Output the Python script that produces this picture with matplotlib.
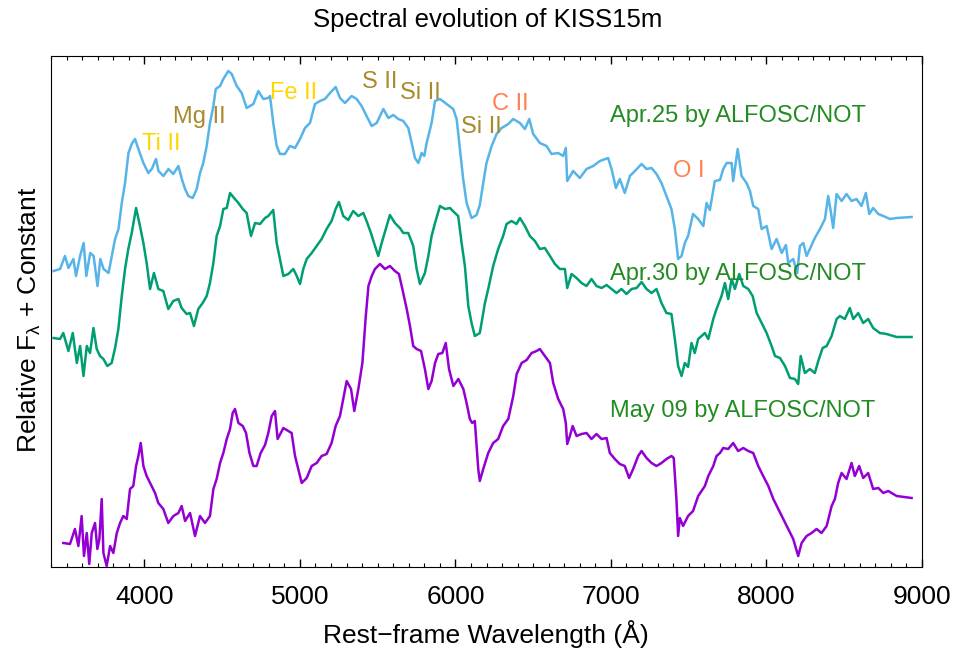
import matplotlib
matplotlib.use("Agg")
import matplotlib.pyplot as plt
from matplotlib.ticker import MultipleLocator

plt.rcParams['font.family'] = ['Liberation Sans', 'DejaVu Sans']
plt.rcParams['mathtext.fontset'] = 'custom'
plt.rcParams['mathtext.rm'] = 'Liberation Sans'
plt.rcParams['mathtext.it'] = 'Liberation Sans:italic'

# spectra (relative flux + constant)
wave_apr25 = [3417, 3458, 3490, 3512, 3544, 3561, 3587, 3610, 3627, 3652, 3674, 3699, 3717, 3738, 3770,
              3791, 3812, 3834, 3855, 3876, 3898, 3919, 3940, 3962, 3994, 4026, 4048, 4075, 4091, 4123,
              4155, 4187, 4219, 4241, 4262, 4283, 4311, 4337, 4358, 4379, 4401, 4422, 4444, 4459, 4487,
              4508, 4540, 4562, 4594, 4626, 4658, 4701, 4733, 4765, 4797, 4808, 4829, 4851, 4872, 4904,
              4936, 4969, 5001, 5033, 5065, 5097, 5129, 5161, 5194, 5230, 5258, 5290, 5333, 5365, 5397,
              5429, 5462, 5494, 5537, 5569, 5601, 5633, 5665, 5697, 5719, 5740, 5762, 5783, 5800, 5815,
              5847, 5869, 5901, 5944, 5986, 6008, 6029, 6050, 6072, 6104, 6136, 6157, 6179, 6200, 6233,
              6265, 6297, 6340, 6372, 6415, 6447, 6475, 6500, 6543, 6586, 6618, 6661, 6693, 6710, 6719,
              6757, 6800, 6843, 6886, 6929, 6982, 7004, 7032, 7057, 7089, 7122, 7154, 7197, 7229, 7261,
              7293, 7325, 7357, 7389, 7411, 7432, 7454, 7475, 7496, 7528, 7561, 7594, 7615, 7636, 7668,
              7701, 7722, 7744, 7776, 7786, 7815, 7840, 7872, 7894, 7915, 7947, 7969, 8001, 8033, 8065,
              8098, 8125, 8140, 8172, 8198, 8215, 8237, 8258, 8279, 8311, 8344, 8376, 8397, 8414, 8429,
              8451, 8483, 8515, 8547, 8579, 8611, 8639, 8661, 8686, 8719, 8751, 8794, 8837, 8933]
flux_apr25 = [2.96, 2.98, 3.11, 2.99, 3.08, 2.91, 3.11, 3.24, 2.91, 3.14, 3.11, 2.81, 3.08, 2.98, 2.94,
              3.11, 3.28, 3.38, 3.64, 3.84, 4.14, 4.23, 4.28, 4.18, 4.04, 3.94, 3.98, 4.08, 3.96, 3.91,
              3.98, 3.93, 4.01, 3.88, 3.78, 3.71, 3.69, 3.78, 3.94, 4.04, 4.21, 4.44, 4.61, 4.78, 4.81,
              4.88, 4.96, 4.93, 4.81, 4.74, 4.59, 4.63, 4.76, 4.68, 4.69, 4.71, 4.44, 4.21, 4.13, 4.13,
              4.21, 4.19, 4.28, 4.39, 4.44, 4.63, 4.66, 4.68, 4.74, 4.80, 4.69, 4.64, 4.71, 4.68, 4.61,
              4.51, 4.41, 4.44, 4.58, 4.49, 4.52, 4.48, 4.46, 4.39, 4.24, 4.09, 4.04, 4.14, 4.11, 4.24,
              4.44, 4.66, 4.68, 4.63, 4.58, 4.48, 4.18, 3.88, 3.64, 3.49, 3.52, 3.62, 3.84, 4.04, 4.21,
              4.33, 4.39, 4.43, 4.48, 4.44, 4.38, 4.48, 4.33, 4.24, 4.21, 4.13, 4.14, 4.11, 4.19, 3.86,
              3.96, 3.89, 3.98, 4.01, 4.06, 4.09, 3.98, 3.79, 3.88, 3.74, 3.91, 3.96, 4.03, 3.98, 3.99,
              3.93, 3.84, 3.71, 3.58, 3.38, 3.08, 3.11, 3.24, 3.31, 3.53, 3.48, 3.41, 3.64, 3.57, 3.86,
              3.87, 3.98, 4.04, 4.04, 3.86, 4.18, 3.91, 3.84, 3.76, 3.61, 3.58, 3.38, 3.41, 3.18, 3.28,
              3.14, 3.22, 3.04, 3.08, 2.94, 3.21, 3.24, 3.11, 3.18, 3.29, 3.38, 3.48, 3.71, 3.55, 3.39,
              3.73, 3.66, 3.73, 3.66, 3.68, 3.61, 3.74, 3.53, 3.59, 3.53, 3.51, 3.48, 3.49, 3.50]

wave_apr30 = [3417, 3458, 3479, 3512, 3540, 3566, 3587, 3609, 3630, 3651, 3673, 3694, 3715, 3737, 3762,
              3790, 3812, 3833, 3855, 3876, 3897, 3919, 3947, 3968, 3994, 4015, 4037, 4062, 4090, 4122,
              4154, 4186, 4219, 4240, 4272, 4294, 4319, 4347, 4375, 4401, 4422, 4444, 4465, 4487, 4508,
              4530, 4551, 4577, 4605, 4633, 4658, 4686, 4712, 4744, 4776, 4797, 4829, 4851, 4872, 4894,
              4926, 4958, 4980, 5001, 5022, 5044, 5076, 5108, 5140, 5172, 5204, 5230, 5251, 5279, 5311,
              5343, 5376, 5408, 5429, 5457, 5483, 5504, 5526, 5558, 5579, 5611, 5643, 5665, 5697, 5729,
              5751, 5772, 5804, 5826, 5847, 5869, 5901, 5933, 5965, 5997, 6018, 6040, 6061, 6083, 6104,
              6125, 6157, 6190, 6211, 6243, 6275, 6307, 6329, 6361, 6393, 6415, 6447, 6479, 6511, 6543,
              6575, 6608, 6640, 6672, 6704, 6719, 6747, 6779, 6811, 6843, 6875, 6907, 6940, 6972, 7004,
              7036, 7068, 7100, 7133, 7165, 7197, 7229, 7261, 7293, 7325, 7357, 7389, 7411, 7432, 7454,
              7475, 7496, 7518, 7539, 7561, 7604, 7626, 7658, 7679, 7711, 7733, 7754, 7776, 7797, 7825,
              7851, 7883, 7911, 7937, 7969, 8001, 8033, 8055, 8087, 8119, 8151, 8183, 8204, 8220, 8247,
              8279, 8311, 8333, 8361, 8387, 8419, 8451, 8472, 8504, 8536, 8558, 8590, 8622, 8654, 8686,
              8729, 8772, 8837, 8933]
flux_apr30 = [2.29, 2.28, 2.34, 2.16, 2.34, 2.04, 2.21, 1.91, 2.21, 2.14, 2.39, 2.18, 2.11, 2.08, 2.01,
              2.04, 2.19, 2.38, 2.71, 2.98, 3.18, 3.34, 3.59, 3.44, 3.24, 3.04, 2.78, 2.94, 2.78, 2.76,
              2.58, 2.66, 2.68, 2.59, 2.53, 2.54, 2.41, 2.58, 2.64, 2.71, 2.84, 3.04, 3.31, 3.41, 3.58,
              3.59, 3.74, 3.69, 3.64, 3.58, 3.54, 3.31, 3.44, 3.43, 3.49, 3.51, 3.57, 3.24, 3.08, 2.91,
              2.93, 2.98, 2.91, 2.83, 2.98, 3.08, 3.14, 3.21, 3.28, 3.38, 3.46, 3.58, 3.65, 3.51, 3.47,
              3.56, 3.51, 3.54, 3.46, 3.34, 3.21, 3.11, 3.24, 3.41, 3.52, 3.44, 3.39, 3.34, 3.34, 3.21,
              2.98, 2.83, 2.94, 3.11, 3.31, 3.44, 3.61, 3.58, 3.59, 3.54, 3.51, 3.24, 3.01, 2.61, 2.44,
              2.31, 2.34, 2.64, 2.78, 3.01, 3.18, 3.31, 3.43, 3.46, 3.43, 3.49, 3.41, 3.31, 3.26, 3.18,
              3.19, 3.11, 3.03, 2.98, 2.98, 2.79, 2.93, 2.89, 2.84, 2.81, 2.88, 2.81, 2.79, 2.82, 2.78,
              2.74, 2.78, 2.73, 2.78, 2.79, 2.85, 2.78, 2.74, 2.78, 2.64, 2.54, 2.53, 2.28, 2.01, 1.91,
              2.04, 2.00, 2.24, 2.14, 2.28, 2.34, 2.28, 2.48, 2.58, 2.71, 2.84, 2.68, 2.88, 2.78, 2.93,
              2.81, 2.78, 2.71, 2.54, 2.44, 2.34, 2.21, 2.11, 2.09, 2.01, 1.89, 1.88, 1.83, 2.11, 1.94,
              1.98, 1.94, 2.06, 2.19, 2.21, 2.31, 2.48, 2.51, 2.48, 2.59, 2.48, 2.54, 2.44, 2.48, 2.39,
              2.34, 2.33, 2.30, 2.30]

wave_may09 = [3479, 3522, 3554, 3576, 3597, 3612, 3630, 3646, 3662, 3683, 3698, 3711, 3726, 3737, 3758,
              3780, 3801, 3823, 3844, 3865, 3887, 3908, 3929, 3947, 3962, 3977, 3994, 4015, 4037, 4069,
              4090, 4122, 4154, 4187, 4219, 4240, 4262, 4294, 4326, 4358, 4390, 4422, 4444, 4465, 4487,
              4508, 4530, 4551, 4568, 4583, 4605, 4633, 4654, 4676, 4701, 4722, 4748, 4776, 4797, 4819,
              4840, 4857, 4894, 4926, 4947, 4969, 4990, 5012, 5044, 5076, 5108, 5140, 5172, 5204, 5230,
              5258, 5279, 5301, 5329, 5350, 5376, 5402, 5424, 5441, 5462, 5483, 5515, 5547, 5579, 5611,
              5637, 5659, 5687, 5708, 5729, 5751, 5779, 5804, 5826, 5847, 5869, 5890, 5916, 5938, 5959,
              5987, 6019, 6051, 6072, 6093, 6108, 6125, 6147, 6157, 6179, 6211, 6243, 6275, 6307, 6340,
              6372, 6394, 6426, 6458, 6490, 6522, 6543, 6575, 6608, 6629, 6661, 6693, 6710, 6719, 6736,
              6754, 6779, 6811, 6843, 6875, 6907, 6940, 6972, 6993, 7025, 7057, 7089, 7117, 7143, 7175,
              7197, 7229, 7261, 7293, 7325, 7357, 7389, 7404, 7421, 7432, 7443, 7464, 7496, 7528, 7561,
              7604, 7626, 7658, 7679, 7701, 7722, 7754, 7786, 7818, 7851, 7883, 7915, 7947, 7979, 8012,
              8044, 8076, 8108, 8140, 8172, 8204, 8226, 8258, 8290, 8322, 8354, 8387, 8419, 8440, 8461,
              8483, 8515, 8547, 8568, 8596, 8622, 8654, 8686, 8719, 8751, 8783, 8837, 8933]
flux_may09 = [0.24, 0.23, 0.38, 0.21, 0.51, 0.11, 0.34, 0.03, 0.34, 0.44, 0.18, 0.28, 0.68, 0.14, 0.01,
              0.21, 0.14, 0.34, 0.44, 0.51, 0.48, 0.78, 0.81, 1.01, 1.11, 1.24, 1.01, 0.91, 0.84, 0.74,
              0.64, 0.58, 0.44, 0.51, 0.54, 0.61, 0.46, 0.54, 0.31, 0.51, 0.44, 0.51, 0.78, 0.88, 1.04,
              1.14, 1.28, 1.38, 1.54, 1.58, 1.44, 1.41, 1.34, 1.14, 1.01, 1.01, 1.14, 1.22, 1.34, 1.51,
              1.56, 1.28, 1.39, 1.36, 1.34, 1.11, 0.98, 0.84, 0.89, 1.01, 1.04, 1.11, 1.13, 1.24, 1.41,
              1.51, 1.68, 1.86, 1.78, 1.56, 1.78, 2.04, 2.51, 2.81, 2.91, 2.98, 3.03, 2.98, 3.01, 2.96,
              2.93, 2.78, 2.58, 2.41, 2.21, 2.18, 2.16, 1.98, 1.78, 1.86, 2.04, 2.13, 2.14, 2.24, 1.98,
              1.81, 1.88, 1.78, 1.64, 1.48, 1.44, 1.46, 0.98, 0.86, 0.98, 1.14, 1.24, 1.28, 1.41, 1.48,
              1.71, 1.93, 2.04, 2.07, 2.14, 2.16, 2.18, 2.11, 2.04, 1.84, 1.68, 1.58, 1.44, 1.23, 1.31,
              1.41, 1.31, 1.33, 1.34, 1.28, 1.33, 1.28, 1.29, 1.14, 1.08, 1.03, 1.01, 0.89, 0.98, 1.11,
              1.16, 1.09, 1.04, 1.01, 1.04, 1.08, 1.11, 1.09, 0.68, 0.31, 0.49, 0.41, 0.51, 0.56, 0.71,
              0.81, 0.91, 1.01, 1.11, 1.14, 1.19, 1.18, 1.24, 1.16, 1.19, 1.16, 1.14, 1.01, 0.91, 0.81,
              0.68, 0.58, 0.48, 0.38, 0.28, 0.11, 0.24, 0.31, 0.34, 0.38, 0.34, 0.41, 0.61, 0.68, 0.84,
              0.94, 0.88, 1.04, 0.91, 1.01, 0.89, 0.94, 0.78, 0.79, 0.74, 0.76, 0.71, 0.69]

# line identifications
line_names = ['Ti II', 'Mg II', 'Fe II', 'S II', 'Si II', 'Si II', 'C II', 'O I']
line_wave = [4107, 4352, 4958, 5515, 5773, 6164, 6350, 7502]
line_height = [4.17, 4.44, 4.68, 4.79, 4.68, 4.34, 4.57, 3.90]
line_colors = ['#FFD700', '#A88A2C', '#FFD700', '#A88A2C', '#A88A2C', '#A88A2C', '#FF7F50', '#FF7F50']

# epoch labels
epoch_labels = ['Apr.25 by ALFOSC/NOT', 'Apr.30 by ALFOSC/NOT', 'May 09 by ALFOSC/NOT']
epoch_height = [4.45, 2.87, 1.50]

fig = plt.figure(figsize=(9.6, 6.54), dpi=100)
ax = fig.add_axes([51 / 960, 87 / 654, 871 / 960, 511 / 654])

ax.plot(wave_apr25, flux_apr25, color='#56B4E9', lw=1.8)
ax.plot(wave_apr30, flux_apr30, color='#009E73', lw=1.8)
ax.plot(wave_may09, flux_may09, color='#9400D3', lw=1.8)

for name, w, h, c in zip(line_names, line_wave, line_height, line_colors):
    ax.text(w, h, name, color=c, fontsize=17, ha='center', va='baseline')

for lab, h in zip(epoch_labels, epoch_height):
    ax.text(6995, h, lab, color='#228B22', fontsize=17, ha='left', va='baseline')

ax.set_xlim(3400, 9000)
ax.set_ylim(0, 5.11)
ax.xaxis.set_major_locator(MultipleLocator(1000))
ax.xaxis.set_minor_locator(MultipleLocator(100))
ax.tick_params(axis='x', which='both', direction='in', top=True, bottom=True, labelsize=19, pad=13)
ax.tick_params(axis='x', which='major', length=6, width=1)
ax.tick_params(axis='x', which='minor', length=3, width=0.8)
ax.set_yticks([])

fig.text(488 / 960, 1 - 20 / 654, 'Spectral evolution of KISS15m', fontsize=18.5, ha='center', va='center')
fig.text(486 / 960, 1 - 634 / 654, 'Rest\u2212frame Wavelength (\u00c5)', fontsize=19, ha='center', va='center')
fig.text(29 / 960, 1 - 320 / 654, r'Relative F$_\mathrm{\lambda}$ + Constant', fontsize=19,
         ha='center', va='center', rotation=90)

fig.savefig('out.png', dpi=100)
